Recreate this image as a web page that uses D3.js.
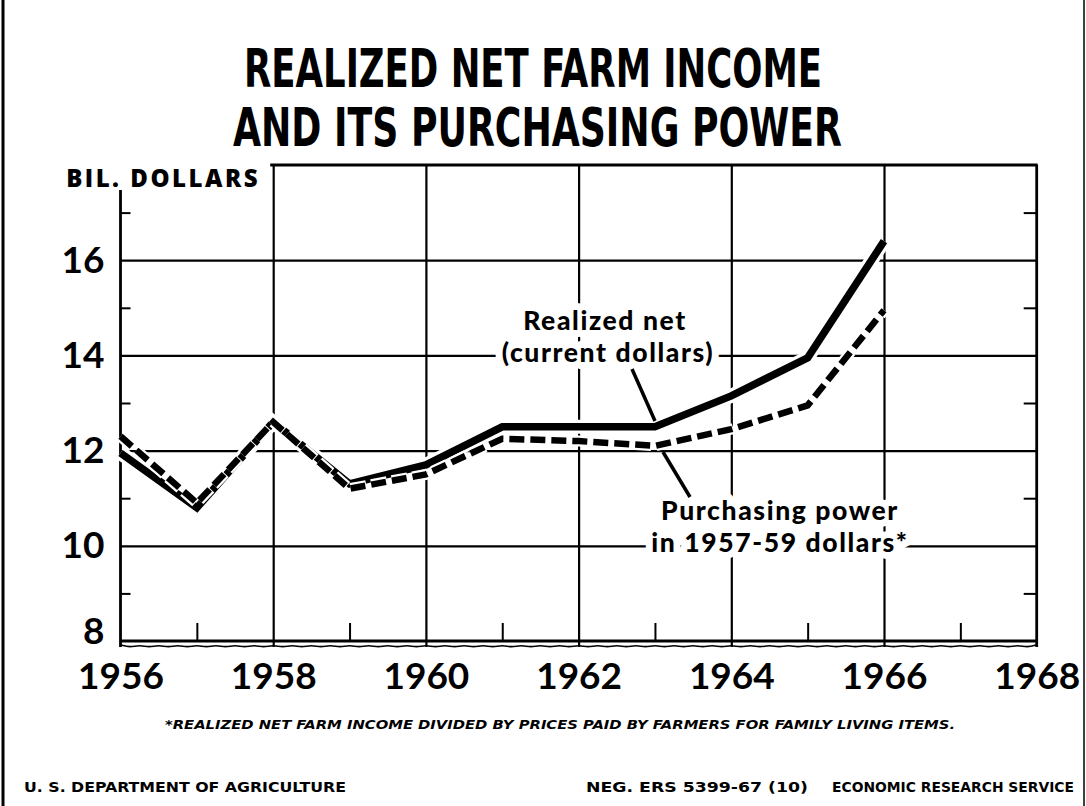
<!DOCTYPE html>
<html>
<head>
<meta charset="utf-8">
<script src="https://cdn.jsdelivr.net/npm/d3@7"></script>
<style>
  body { margin: 0; background: #fff; }
  svg { display: block; }
  .tick line { stroke: #000; }
</style>
</head>
<body>
<div id="chart"></div>
<script>
// data (billion dollars)
var years = [1956, 1957, 1958, 1959, 1960, 1961, 1962, 1963, 1964, 1965, 1966];
var realizedNet = [11.95, 10.8, 12.6, 11.3, 11.7, 12.5, 12.5, 12.5, 13.15, 13.95, 16.4];
var purchasingPower = [12.3, 10.9, 12.6, 11.2, 11.5, 12.25, 12.2, 12.1, 12.45, 12.95, 14.95];

var xLabelYears = [1956, 1958, 1960, 1962, 1964, 1966, 1968];
var xGridYears = [1958, 1960, 1962, 1964, 1966];
var xMinorYears = [1957, 1959, 1961, 1963, 1965, 1967];
var yLabelValues = [8, 10, 12, 14, 16];
var yGridValues = [10, 12, 14, 16];
var yMinorValues = [9, 11, 13, 15, 17];

var svgWidth = 1086;
var svgHeight = 806;

var plot = { left: 120.5, right: 1036.7, top: 165, bottom: 641 };

var svg = d3.select("#chart")
  .append("svg")
  .attr("width", svgWidth)
  .attr("height", svgHeight);

svg.append("rect")
  .attr("width", svgWidth)
  .attr("height", svgHeight)
  .attr("fill", "#fff");

// page frame edges
svg.append("line").attr("x1", 3).attr("x2", 3).attr("y1", 0).attr("y2", svgHeight)
  .attr("stroke", "#000").attr("stroke-width", 3);
svg.append("line").attr("x1", 1084).attr("x2", 1084).attr("y1", 0).attr("y2", svgHeight)
  .attr("stroke", "#000").attr("stroke-width", 1.5);

var x = d3.scaleLinear().domain([1956, 1968]).range([plot.left, plot.right]);
var y = d3.scaleLinear().domain([8, 18]).range([plot.bottom, plot.top]);

var plotW = plot.right - plot.left;
var plotH = plot.bottom - plot.top;

// title
var title = svg.append("g")
  .attr("font-family", "'DejaVu Sans Condensed', 'DejaVu Sans', sans-serif")
  .attr("font-weight", "bold")
  .attr("font-size", 54)
  .attr("fill", "#000");

title.append("text")
  .attr("x", 244).attr("y", 87)
  .attr("textLength", 578).attr("lengthAdjust", "spacingAndGlyphs")
  .text("REALIZED NET FARM INCOME");

title.append("text")
  .attr("x", 233).attr("y", 146)
  .attr("textLength", 609).attr("lengthAdjust", "spacingAndGlyphs")
  .text("AND ITS PURCHASING POWER");

// vertical gridlines
svg.append("g")
  .attr("transform", `translate(0, ${plot.bottom + 6})`)
  .call(d3.axisBottom(x).tickValues(xGridYears).tickSize(-(plotH + 6)).tickFormat(""))
  .call(g => g.select(".domain").remove())
  .selectAll("line").attr("stroke-width", 2.2);

// horizontal gridlines
svg.append("g")
  .attr("transform", `translate(${plot.left}, 0)`)
  .call(d3.axisLeft(y).tickValues(yGridValues).tickSize(-plotW).tickFormat(""))
  .call(g => g.select(".domain").remove())
  .selectAll("line").attr("stroke-width", 2.2);

// minor ticks: bottom, left, right
svg.append("g")
  .attr("transform", `translate(0, ${plot.bottom})`)
  .call(d3.axisBottom(x).tickValues(xMinorYears).tickSize(-18).tickFormat(""))
  .call(g => g.select(".domain").remove())
  .selectAll("line").attr("stroke-width", 2);

svg.append("g")
  .attr("transform", `translate(${plot.left}, 0)`)
  .call(d3.axisLeft(y).tickValues(yMinorValues).tickSize(-10).tickFormat(""))
  .call(g => g.select(".domain").remove())
  .selectAll("line").attr("stroke-width", 2);

svg.append("g")
  .attr("transform", `translate(${plot.right}, 0)`)
  .call(d3.axisRight(y).tickValues(yMinorValues).tickSize(-13).tickFormat(""))
  .call(g => g.select(".domain").remove())
  .selectAll("line").attr("stroke-width", 2);

// frame: left (below the unit label), top (from 1958 on), right, bottom axis
var frame = svg.append("g").attr("stroke", "#000").attr("fill", "none");
frame.append("line")
  .attr("x1", plot.left).attr("x2", plot.left)
  .attr("y1", 190).attr("y2", plot.bottom + 6)
  .attr("stroke-width", 2.8);
frame.append("line")
  .attr("x1", x(1958) - 3).attr("x2", plot.right + 1)
  .attr("y1", plot.top).attr("y2", plot.top)
  .attr("stroke-width", 2.8);
frame.append("line")
  .attr("x1", plot.right).attr("x2", plot.right)
  .attr("y1", plot.top).attr("y2", plot.bottom + 6)
  .attr("stroke-width", 2.8);
frame.append("line")
  .attr("x1", plot.left).attr("x2", plot.right)
  .attr("y1", plot.bottom).attr("y2", plot.bottom)
  .attr("stroke-width", 2.8);

// wavy break line under the axis
var wave = d3.range(1956, 1968.001, 0.125).map((t, i) => [x(t), plot.bottom + 5 + (i % 2 ? 1.6 : -1.2)]);
frame.append("path")
  .attr("d", d3.line().curve(d3.curveBasis)(wave))
  .attr("stroke-width", 1.6);

// data lines
var lineGen = d3.line()
  .x((d, i) => x(years[i]))
  .y(d => y(d))
  .curve(d3.curveLinear);

var lines = svg.append("g");

lines.append("path")
  .attr("d", lineGen(realizedNet))
  .attr("fill", "none").attr("stroke", "#fff")
  .attr("stroke-width", 14).attr("stroke-linejoin", "miter");
lines.append("path")
  .attr("d", lineGen(realizedNet))
  .attr("fill", "none").attr("stroke", "#000")
  .attr("stroke-width", 7.5).attr("stroke-linejoin", "miter");

lines.append("path")
  .attr("d", lineGen(purchasingPower))
  .attr("fill", "none").attr("stroke", "#fff")
  .attr("stroke-width", 11)
  .attr("stroke-dasharray", "16 5");
lines.append("path")
  .attr("d", lineGen(purchasingPower))
  .attr("fill", "none").attr("stroke", "#000")
  .attr("stroke-width", 6.5)
  .attr("stroke-dasharray", "15 6");

// axis labels
var labelFont = "Lato, 'DejaVu Sans', sans-serif";
var noteFont = "'Open Sans', 'DejaVu Sans', sans-serif";

svg.append("g")
  .attr("transform", `translate(0, ${plot.bottom})`)
  .call(d3.axisBottom(x).tickValues(xLabelYears).tickSize(0).tickPadding(22).tickFormat(d3.format("d")))
  .call(g => g.select(".domain").remove())
  .selectAll("text")
  .attr("font-family", labelFont)
  .attr("font-weight", "bold")
  .attr("font-size", 37)
  .attr("fill", "#000")
  .attr("dy", "0.71em");

svg.append("g")
  .attr("transform", `translate(${plot.left - 16}, 0)`)
  .call(d3.axisLeft(y).tickValues(yLabelValues).tickSize(0).tickPadding(0))
  .call(g => g.select(".domain").remove())
  .selectAll("text")
  .attr("font-family", labelFont)
  .attr("font-weight", "bold")
  .attr("font-size", 37)
  .attr("fill", "#000")
  .attr("dy", d => d === 8 ? "0.08em" : "0.32em");

svg.append("text")
  .attr("x", 260).attr("y", 187)
  .attr("text-anchor", "end")
  .attr("font-family", noteFont)
  .attr("font-weight", "800")
  .attr("font-size", 24)
  .attr("letter-spacing", 2.5)
  .text("BIL. DOLLARS");

// leader lines
var leaders = svg.append("g").attr("stroke", "#000").attr("stroke-linecap", "butt");
leaders.append("line")
  .attr("x1", 632).attr("y1", 369).attr("x2", 655).attr("y2", 421)
  .attr("stroke-width", 3.5);
leaders.append("line")
  .attr("x1", 663).attr("y1", 452).attr("x2", 690).attr("y2", 497)
  .attr("stroke-width", 3.5);

// series labels (white halo hides the gridlines behind)
var notes = svg.append("g")
  .attr("font-family", labelFont)
  .attr("font-weight", "900")
  .attr("font-size", 26.5)
  .attr("letter-spacing", 1.6)
  .attr("text-anchor", "middle")
  .attr("fill", "#000")
  .attr("stroke", "#fff")
  .attr("stroke-width", 14)
  .attr("stroke-linejoin", "round")
  .attr("paint-order", "stroke");

notes.append("text").attr("x", 605).attr("y", 330).text("Realized net");
notes.append("text").attr("x", 608).attr("y", 362).text("(current dollars)");
notes.append("text").attr("x", 780).attr("y", 520).text("Purchasing power");
notes.append("text").attr("x", 780).attr("y", 552).text("in 1957-59 dollars*");

// footnote and credits
svg.append("text")
  .attr("x", 560).attr("y", 729)
  .attr("text-anchor", "middle")
  .attr("font-family", "'DejaVu Sans Condensed', 'DejaVu Sans', sans-serif")
  .attr("font-weight", "bold")
  .attr("font-style", "italic")
  .attr("font-size", 13)
  .attr("textLength", 790).attr("lengthAdjust", "spacingAndGlyphs")
  .text("*REALIZED NET FARM INCOME DIVIDED BY PRICES PAID BY FARMERS FOR FAMILY LIVING ITEMS.");

var credits = svg.append("g")
  .attr("font-family", "'DejaVu Sans Condensed', 'DejaVu Sans', sans-serif")
  .attr("font-weight", "bold")
  .attr("font-size", 14);

credits.append("text").attr("x", 24).attr("y", 792)
  .attr("textLength", 322).attr("lengthAdjust", "spacingAndGlyphs")
  .text("U. S. DEPARTMENT OF AGRICULTURE");
credits.append("text").attr("x", 586).attr("y", 792)
  .attr("textLength", 222).attr("lengthAdjust", "spacingAndGlyphs")
  .text("NEG. ERS 5399-67 (10)");
credits.append("text").attr("x", 832).attr("y", 792)
  .attr("textLength", 242).attr("lengthAdjust", "spacingAndGlyphs")
  .text("ECONOMIC RESEARCH SERVICE");
</script>
</body>
</html>
